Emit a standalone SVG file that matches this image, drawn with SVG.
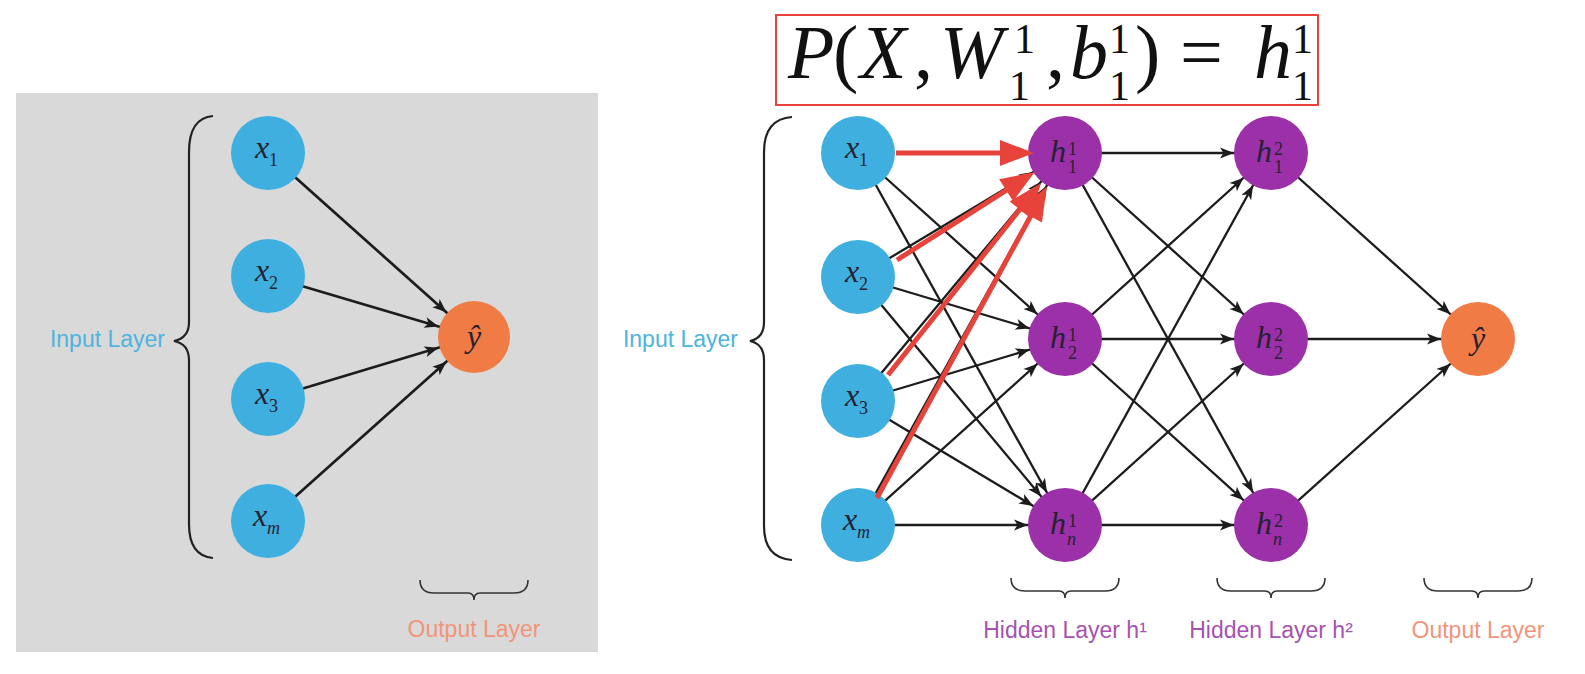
<svg xmlns="http://www.w3.org/2000/svg" width="1585" height="674" viewBox="0 0 1585 674">
<style>
.in{fill:#3fafe0}
.hid{fill:#9c30a8}
.out{fill:#f07b45}
.lab{font-family:"Liberation Serif",serif;font-style:italic;font-size:32px;fill:#262230}
.dig{font-family:"Liberation Serif",serif;font-style:normal;font-size:18px;fill:#262230}
.sl{font-family:"Liberation Serif",serif;font-style:italic;font-size:18px;fill:#262230}
.edge{stroke:#1c1c1c;stroke-width:2.3;fill:none;marker-end:url(#ah)}
.edgeL{stroke:#1c1c1c;stroke-width:2.7;fill:none;marker-end:url(#ah)}
.red{stroke:#e8433a;stroke-width:5;fill:none;marker-end:url(#rh)}
.brace{stroke:#222;stroke-width:2.2;fill:none}
.bbrace{stroke:#333;stroke-width:1.6;fill:none}
.cap{font-family:"Liberation Sans",Arial,sans-serif;font-size:23px}
.blue{fill:#4fb4dc}
.purp{fill:#a552b0}
.sal{fill:#f0957a}
.fm{font-family:"Liberation Serif",serif;font-size:76px;fill:#111}
.fs{font-family:"Liberation Serif",serif;font-size:42px;fill:#111}
</style>
<defs>
<marker id="ah" markerUnits="userSpaceOnUse" markerWidth="14" markerHeight="11" refX="51" refY="5.5" orient="auto" overflow="visible">
<path d="M0,0 L14,5.5 L0,11 L3.5,5.5 Z" fill="#1c1c1c"/>
</marker>
<marker id="rh" markerUnits="userSpaceOnUse" markerWidth="34" markerHeight="26" refX="20" refY="13" orient="auto" overflow="visible">
<path d="M0,0 L34,13 L0,26 Z" fill="#e8433a"/>
</marker>
</defs>
<rect width="1585" height="674" fill="#fff"/>
<rect id="left-panel" x="16" y="93" width="582" height="559" fill="#d9d9d9"/>

<g id="formula">
<rect x="776" y="15" width="542" height="90" fill="#fff" stroke="#e8433a" stroke-width="2"/>
<text class="fm" y="78"><tspan x="788" font-style="italic">P</tspan><tspan x="833">(</tspan><tspan x="860" font-style="italic">X</tspan><tspan x="914">,</tspan><tspan x="940" font-style="italic">W</tspan><tspan x="1046">,</tspan><tspan x="1070" font-style="italic">b</tspan><tspan x="1135">)</tspan><tspan x="1180">=</tspan><tspan x="1254" font-style="italic">h</tspan></text>
<text class="fs"><tspan x="1014" y="53">1</tspan><tspan x="1009" y="100">1</tspan><tspan x="1109" y="53">1</tspan><tspan x="1109" y="100">1</tspan><tspan x="1292" y="53">1</tspan><tspan x="1292" y="100">1</tspan></text>
</g>

<g id="connectors">
<line class="edgeL" x1="268" y1="153" x2="474" y2="337"/>
<line class="edgeL" x1="268" y1="276" x2="474" y2="337"/>
<line class="edgeL" x1="268" y1="399" x2="474" y2="337"/>
<line class="edgeL" x1="268" y1="521" x2="474" y2="337"/>
<line class="edge" x1="858" y1="153" x2="1065" y2="339"/>
<line class="edge" x1="858" y1="153" x2="1065" y2="525"/>
<line class="edge" x1="858" y1="277" x2="1065" y2="153"/>
<line class="edge" x1="858" y1="277" x2="1065" y2="339"/>
<line class="edge" x1="858" y1="277" x2="1065" y2="525"/>
<line class="edge" x1="858" y1="401" x2="1065" y2="153"/>
<line class="edge" x1="858" y1="401" x2="1065" y2="339"/>
<line class="edge" x1="858" y1="401" x2="1065" y2="525"/>
<line class="edge" x1="858" y1="525" x2="1065" y2="153"/>
<line class="edge" x1="858" y1="525" x2="1065" y2="339"/>
<line class="edge" x1="858" y1="525" x2="1065" y2="525"/>
<line class="edge" x1="1065" y1="153" x2="1271" y2="153"/>
<line class="edge" x1="1065" y1="153" x2="1271" y2="339"/>
<line class="edge" x1="1065" y1="153" x2="1271" y2="525"/>
<line class="edge" x1="1065" y1="339" x2="1271" y2="153"/>
<line class="edge" x1="1065" y1="339" x2="1271" y2="339"/>
<line class="edge" x1="1065" y1="339" x2="1271" y2="525"/>
<line class="edge" x1="1065" y1="525" x2="1271" y2="153"/>
<line class="edge" x1="1065" y1="525" x2="1271" y2="339"/>
<line class="edge" x1="1065" y1="525" x2="1271" y2="525"/>
<line class="edge" x1="1271" y1="153" x2="1478" y2="339"/>
<line class="edge" x1="1271" y1="339" x2="1478" y2="339"/>
<line class="edge" x1="1271" y1="525" x2="1478" y2="339"/>
</g>

<g id="braces">
<path class="brace" d="M213,116 Q189,118 189,152 L189,322 Q189,338 174,341 Q189,344 189,360 L189,524 Q189,556 213,558"/>
<path class="brace" d="M792,117 Q764,119 764,152 L764,322 Q764,338 750,341 Q764,344 764,360 L764,526 Q764,558 792,560"/>
<path class="bbrace" d="M420,580 Q420,593 434,593 L468,593 Q474,593 474,600 Q474,593 480,593 L514,593 Q528,593 528,580"/>
<path class="bbrace" d="M1011,578 Q1011,591 1025,591 L1059,591 Q1065,591 1065,598 Q1065,591 1071,591 L1105,591 Q1119,591 1119,578"/>
<path class="bbrace" d="M1217,578 Q1217,591 1231,591 L1265,591 Q1271,591 1271,598 Q1271,591 1277,591 L1311,591 Q1325,591 1325,578"/>
<path class="bbrace" d="M1424,578 Q1424,591 1438,591 L1472,591 Q1478,591 1478,598 Q1478,591 1484,591 L1518,591 Q1532,591 1532,578"/>
</g>

<g id="captions">
<text class="cap blue" x="165" y="347" text-anchor="end">Input Layer</text>
<text class="cap blue" x="738" y="347" text-anchor="end">Input Layer</text>
<text class="cap sal" x="474" y="637" text-anchor="middle">Output Layer</text>
<text class="cap purp" x="1065" y="638" text-anchor="middle">Hidden Layer h¹</text>
<text class="cap purp" x="1271" y="638" text-anchor="middle">Hidden Layer h²</text>
<text class="cap sal" x="1478" y="638" text-anchor="middle">Output Layer</text>
</g>

<g id="L-x1"><circle class="in" cx="268" cy="153" r="37"/><text class="lab" x="255" y="158">x</text><text class="dig" x="269" y="166">1</text></g>
<g id="L-x2"><circle class="in" cx="268" cy="276" r="37"/><text class="lab" x="255" y="281">x</text><text class="dig" x="269" y="289">2</text></g>
<g id="L-x3"><circle class="in" cx="268" cy="399" r="37"/><text class="lab" x="255" y="404">x</text><text class="dig" x="269" y="412">3</text></g>
<g id="L-xm"><circle class="in" cx="268" cy="521" r="37"/><text class="lab" x="253" y="526">x</text><text class="sl" x="267" y="534">m</text></g>
<g id="L-yhat"><circle class="out" cx="474" cy="337" r="36"/><text class="lab" x="474" y="347" text-anchor="middle">ŷ</text></g>

<g id="R-x1"><circle class="in" cx="858" cy="153" r="37"/><text class="lab" x="845" y="158">x</text><text class="dig" x="859" y="166">1</text></g>
<g id="R-x2"><circle class="in" cx="858" cy="277" r="37"/><text class="lab" x="845" y="282">x</text><text class="dig" x="859" y="290">2</text></g>
<g id="R-x3"><circle class="in" cx="858" cy="401" r="37"/><text class="lab" x="845" y="406">x</text><text class="dig" x="859" y="414">3</text></g>
<g id="R-xm"><circle class="in" cx="858" cy="525" r="37"/><text class="lab" x="843" y="530">x</text><text class="sl" x="857" y="538">m</text></g>

<g id="h1-1"><circle class="hid" cx="1065" cy="153" r="37"/><text class="lab" x="1050" y="162">h</text><text class="dig" x="1068" y="155">1</text><text class="dig" x="1068" y="173">1</text></g>
<g id="h1-2"><circle class="hid" cx="1065" cy="339" r="37"/><text class="lab" x="1050" y="348">h</text><text class="dig" x="1068" y="341">1</text><text class="dig" x="1068" y="359">2</text></g>
<g id="h1-n"><circle class="hid" cx="1065" cy="525" r="37"/><text class="lab" x="1050" y="534">h</text><text class="dig" x="1068" y="527">1</text><text class="sl" x="1067" y="545">n</text></g>

<g id="h2-1"><circle class="hid" cx="1271" cy="153" r="37"/><text class="lab" x="1256" y="162">h</text><text class="dig" x="1274" y="155">2</text><text class="dig" x="1274" y="173">1</text></g>
<g id="h2-2"><circle class="hid" cx="1271" cy="339" r="37"/><text class="lab" x="1256" y="348">h</text><text class="dig" x="1274" y="341">2</text><text class="dig" x="1274" y="359">2</text></g>
<g id="h2-n"><circle class="hid" cx="1271" cy="525" r="37"/><text class="lab" x="1256" y="534">h</text><text class="dig" x="1274" y="527">2</text><text class="sl" x="1273" y="545">n</text></g>

<g id="R-yhat"><circle class="out" cx="1478" cy="339" r="37"/><text class="lab" x="1478" y="349" text-anchor="middle">ŷ</text></g>

<g id="red-connectors">
<line class="red" x1="896" y1="153" x2="1020" y2="153"/>
<line class="red" x1="897" y1="260" x2="1023" y2="179.5"/>
<line class="red" x1="888" y1="375" x2="1032.3" y2="193.9"/>
<line class="red" x1="877" y1="498" x2="1040.1" y2="198.7"/>
</g>
</svg>
